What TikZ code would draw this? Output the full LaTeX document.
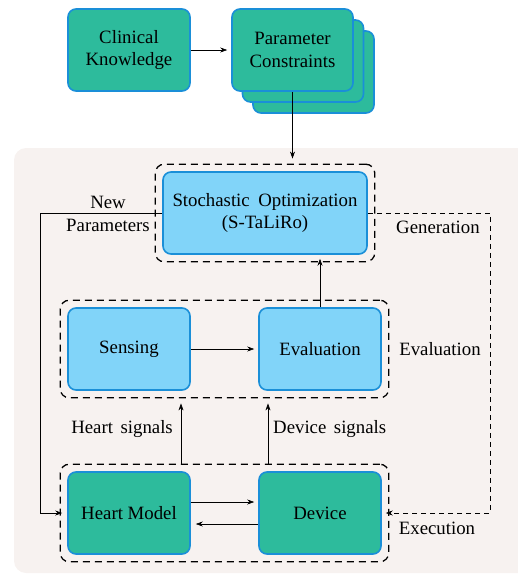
\documentclass[tikz,border=0pt]{standalone}
\usepackage{fontspec}
\setmainfont{Liberation Serif}
\usetikzlibrary{arrows.meta,fit,positioning}
\definecolor{teal1}{HTML}{2DBB9C}
\definecolor{bord}{HTML}{1A8FD8}
\definecolor{lblue}{HTML}{81D4F9}
\definecolor{bgc}{HTML}{F7F2F0}
\tikzset{
  box/.style={draw=bord, line width=1.6pt, rounded corners=8pt, minimum width=122pt, minimum height=82pt, align=center, inner sep=0pt},
  gbox/.style={box, fill=teal1},
  bbox/.style={box, fill=lblue},
  grp/.style={draw=black, line width=1.3pt, dash pattern=on 7pt off 5pt, rounded corners=9pt, inner sep=7pt},
  arr/.style={-{Stealth[length=7pt,width=5pt]}, line width=0.6pt},
  lbl/.style={inner sep=0pt}
}
\begin{document}
\begin{tikzpicture}[x=1pt,y=-1pt,font=\fontsize{18.8}{22.6}\selectfont]
\useasboundingbox (0,0) rectangle (518,574);
\fill[bgc, rounded corners=12pt] (14,148) rectangle (540,573);

\node[gbox] (ck) at (129,50) {Clinical\\Knowledge};
\node[gbox, minimum width=121pt] (pc3) at (313.5,72) {};
\node[gbox, minimum width=121pt] (pc2) at (303,61) {};
\node[gbox, minimum width=121pt] (pc) at (292.5,50) {Parameter\\Constraints};

\node[bbox, minimum width=204pt] (so) at (265,213) {Stochastic\hspace{0.2em} Optimization\\(S-TaLiRo)};
\node[bbox] (sens) at (129,349) {Sensing};
\node[bbox] (ev) at (320,349) {Evaluation};
\node[gbox] (hm) at (129,513) {Heart Model};
\node[gbox] (dev) at (320,513) {Device};

\node[grp, fit=(so)] (gso) {};
\node[grp, fit=(sens)(ev)] (gev) {};
\node[grp, fit=(hm)(dev)] (gex) {};

\draw[arr, shorten >=4pt] (ck) -- (pc);
\draw[arr, shorten >=5pt] (pc.south) -- (pc.south |- gso.north);
\draw[arr, shorten >=4pt] (ev.north) -- (ev.north |- so.south);
\draw[arr, shorten >=4pt] (sens) -- (ev);
\draw[arr, shorten >=4pt] ([yshift=11pt]hm.east) -- ([yshift=11pt]dev.west);
\draw[arr, shorten >=5pt] ([yshift=-11pt]dev.west) -- ([yshift=-11pt]hm.east);
\draw[arr, shorten >=5pt] (181,0 |- gex.north) -- (181,0 |- gev.south);
\draw[arr, shorten >=5pt] (268,0 |- gex.north) -- (268,0 |- gev.south);
\draw[arr, shorten >=5pt] (so.west) -- (40,0 |- so.west) |- (hm.west);
\draw[arr, dashed, dash pattern=on 5pt off 4pt, shorten >=4pt] (so.east) -- (490,0 |- so.east) |- (dev.east);

\node[lbl, align=center] (np) at (108,214) {New\\Parameters};
\node[lbl, anchor=base] (lg) at (438,233) {Generation};
\node[lbl, anchor=base] (le) at (440,355) {Evaluation};
\node[lbl, anchor=base] (lx) at (437,534) {Execution};
\node[lbl, anchor=base east] (hs) at (173,433) {Heart\hspace{0.15em} signals};
\node[lbl, anchor=base west] (ds) at (273,433) {Device\hspace{0.15em} signals};
\end{tikzpicture}
\end{document}
